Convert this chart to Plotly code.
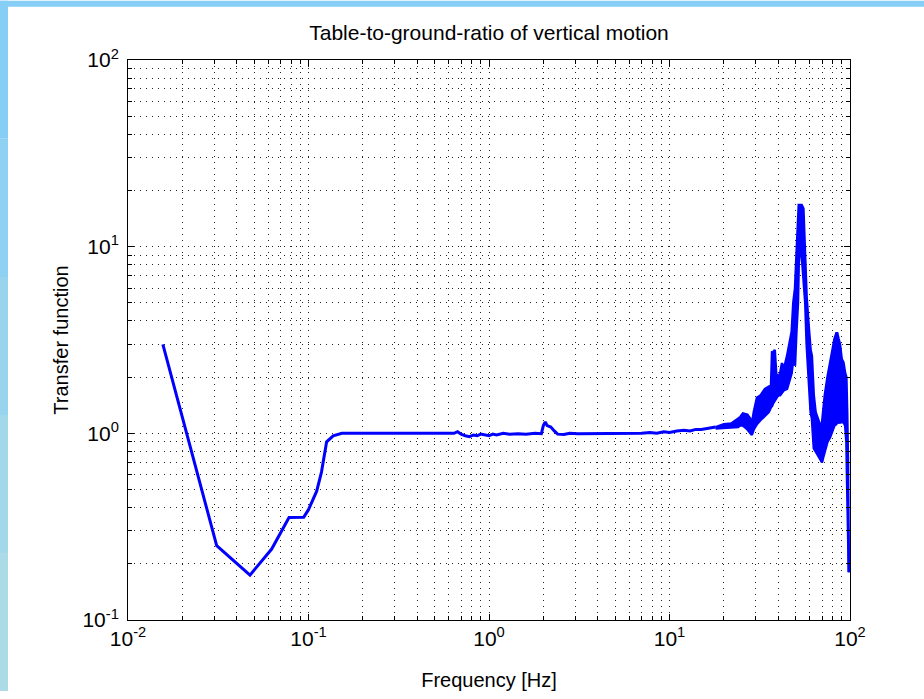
import plotly.graph_objects as go

# ---- data ----
freq_low = [0.0156, 0.031, 0.0474, 0.0625, 0.078, 0.094, 0.100, 0.111, 0.118, 0.126, 0.137, 0.153]
tf_low = [3.0, 0.25, 0.174, 0.24, 0.354, 0.355, 0.39, 0.49, 0.62, 0.90, 0.97, 1.0]

freq_mid = [0.17, 0.2, 0.23, 0.27, 0.3, 0.35, 0.4, 0.45, 0.5, 0.55, 0.6, 0.64, 0.67, 0.7, 0.74,
            0.78, 0.82, 0.86, 0.9, 0.95, 1.0, 1.05, 1.1, 1.2, 1.3, 1.45, 1.6, 1.8, 1.95, 2.0,
            2.05, 2.1, 2.2, 2.3, 2.4, 2.6, 2.8, 3.1, 3.5, 4.0, 4.5, 5.0, 5.5, 6.2, 7.0, 7.8,
            8.5, 9.3, 10.0, 11, 12, 13, 14, 15, 16, 17, 18]
tf_mid = [1.0, 1.0, 0.995, 1.0, 0.995, 1.0, 0.995, 1.0, 0.995, 1.0, 0.995, 1.0, 1.02, 0.99, 0.97,
          0.96, 0.98, 0.97, 0.99, 0.98, 0.97, 0.99, 0.98, 1.0, 0.99, 0.995, 0.99, 1.0, 0.995, 1.1,
          1.15, 1.1, 1.08, 1.03, 0.99, 0.985, 1.0, 0.995, 0.995, 1.0, 0.995, 1.0, 0.995, 1.0, 1.0, 1.01,
          1.0, 1.02, 1.01, 1.03, 1.04, 1.03, 1.05, 1.05, 1.06, 1.07, 1.08]

# dense, noisy high-frequency part: upper and lower envelope of the band
freq_band = [18, 20, 22, 24, 24.6, 25.5, 27, 28, 28.6, 29.3, 30.5, 32, 33.8, 35.5, 36.5, 37,
             37.5, 38.3, 39, 40, 41, 42, 43, 44.8, 46, 47.5, 48.5, 49.6, 50.5, 51.5, 52, 52.8,
             54, 55.2, 55.8, 56.5, 57.5, 59, 60.5, 61.5, 63, 64.5, 66.5, 68.5, 70, 71, 72.5,
             75, 77.5, 80, 82, 84, 85, 86.5, 88, 90, 92, 94, 95.5, 96.5, 97.5, 98.5]
tf_band_upper = [1.08, 1.12, 1.13, 1.2, 1.22, 1.28, 1.26, 1.2, 1.12, 1.3, 1.55, 1.6, 1.73, 1.78,
                 1.8, 2.75, 2.7, 2.8, 2.1, 2.0, 2.1, 2.38, 2.2, 2.6, 3.0, 3.5, 5.0, 6.0, 9.0,
                 13, 16.7, 16.7, 16.7, 16.0, 12, 9.0, 5.4, 3.8, 2.8, 2.6, 1.6, 1.3, 1.2, 1.1,
                 1.14, 1.3, 1.6, 2.0, 2.4, 2.9, 3.2, 3.44, 3.44, 3.2, 3.0, 2.5, 2.4, 2.1, 2.0,
                 1.3, 0.7, 0.18]
tf_band_lower = [1.06, 1.07, 1.07, 1.08, 1.1, 1.1, 1.05, 1.0, 0.98, 1.05, 1.12, 1.18, 1.25, 1.3,
                 1.38, 1.4, 1.45, 1.5, 1.55, 1.6, 1.6, 1.65, 1.7, 1.73, 1.9, 2.1, 2.5, 2.3, 3.5,
                 5.0, 8.0, 10, 9, 7.0, 6, 5.0, 3.0, 2.0, 1.3, 1.2, 0.83, 0.8, 0.76, 0.72, 0.70,
                 0.74, 0.8, 0.9, 0.95, 1.05, 1.1, 1.12, 1.15, 1.14, 1.14, 1.15, 1.15, 1.1, 0.9,
                 0.5, 0.3, 0.18]

freq = freq_low + freq_mid
transfer = tf_low + tf_mid

x_tickvals = [0.01, 0.1, 1, 10, 100]
x_ticktext = ["10<sup>-2</sup>", "10<sup>-1</sup>", "10<sup>0</sup>", "10<sup>1</sup>", "10<sup>2</sup>"]
y_tickvals = [0.1, 1, 10, 100]
y_ticktext = ["10<sup>-1</sup>", "10<sup>0</sup>", "10<sup>1</sup>", "10<sup>2</sup>"]

title_text = "Table-to-ground-ratio of vertical motion"
x_title = "Frequency [Hz]"
y_title = "Transfer function"

minor_x = [m * 10 ** k for k in range(-2, 2) for m in range(2, 10)]
minor_y = [m * 10 ** k for k in range(-1, 2) for m in range(2, 10)]

FONT = "Liberation Sans, Arial, sans-serif"
GRIDDASH = "1px,5px"
BLUE = "#0000FF"

fig = go.Figure()
fig.add_trace(go.Scatter(x=freq, y=transfer, mode="lines",
                         line=dict(color=BLUE, width=3), showlegend=False))
fig.add_trace(go.Scatter(x=freq_band, y=tf_band_upper, mode="lines",
                         line=dict(color=BLUE, width=2.5), showlegend=False))
fig.add_trace(go.Scatter(x=freq_band, y=tf_band_lower, mode="lines", fill="tonexty",
                         fillcolor=BLUE, line=dict(color=BLUE, width=2.5), showlegend=False))

W, H = 924, 699
L, R, T, B = 128, 74, 60, 72
pw, ph = W - L - R, H - T - B

def px_x(p):
    return (p - L) / pw

def px_y(p):
    return (H - B - p) / ph

shapes = [
    dict(type="rect", xref="paper", yref="paper", x0=px_x(0), x1=px_x(W), y0=px_y(6), y1=px_y(0),
         fillcolor="#87CEF7", line=dict(width=0), layer="below"),
]
left_cols = ["#87CEF7", "#8FD1F3", "#98D4EE", "#A2D8EA", "#ACDBE7"]
seg = H / len(left_cols)
for i, c in enumerate(left_cols):
    shapes.append(dict(type="rect", xref="paper", yref="paper", x0=px_x(0), x1=px_x(8),
                       y0=px_y(seg * (i + 1)), y1=px_y(seg * i), fillcolor=c,
                       line=dict(width=0), layer="below"))

axis_common = dict(
    type="log",
    showline=True, linecolor="black", linewidth=1, mirror="allticks",
    ticks="inside", ticklen=6, tickwidth=1, tickcolor="black",
    showgrid=True, gridcolor="#222222", gridwidth=1, griddash=GRIDDASH,
    zeroline=False,
    tickfont=dict(family=FONT, size=21, color="black"),
)

fig.update_layout(
    width=W, height=H,
    margin=dict(l=L, r=R, t=T, b=B),
    paper_bgcolor="white", plot_bgcolor="white",
    font=dict(family=FONT, color="black"),
    title=dict(text=title_text, x=0.5, xref="paper", y=1 - 33 / H, yref="container",
               yanchor="middle", xanchor="center",
               font=dict(family=FONT, size=21, color="black")),
    xaxis=dict(axis_common, range=[-2, 2], tickvals=x_tickvals, ticktext=x_ticktext,
               minor=dict(tickvals=minor_x, ticks="inside", ticklen=4, tickcolor="black",
                          showgrid=True, gridcolor="#222222", gridwidth=1, griddash=GRIDDASH),
               title=dict(text=x_title, font=dict(family=FONT, size=20, color="black"), standoff=23)),
    yaxis=dict(axis_common, range=[-1, 2], tickvals=y_tickvals, ticktext=y_ticktext,
               minor=dict(tickvals=minor_y, ticks="inside", ticklen=4, tickcolor="black",
                          showgrid=True, gridcolor="#222222", gridwidth=1, griddash=GRIDDASH),
               ticklabelstandoff=4,
               title=dict(text=y_title, font=dict(family=FONT, size=20, color="black"), standoff=8)),
    shapes=shapes,
)

fig.write_html("out.html", config={"displayModeBar": False},
               post_script="document.body.style.margin='0px';")
